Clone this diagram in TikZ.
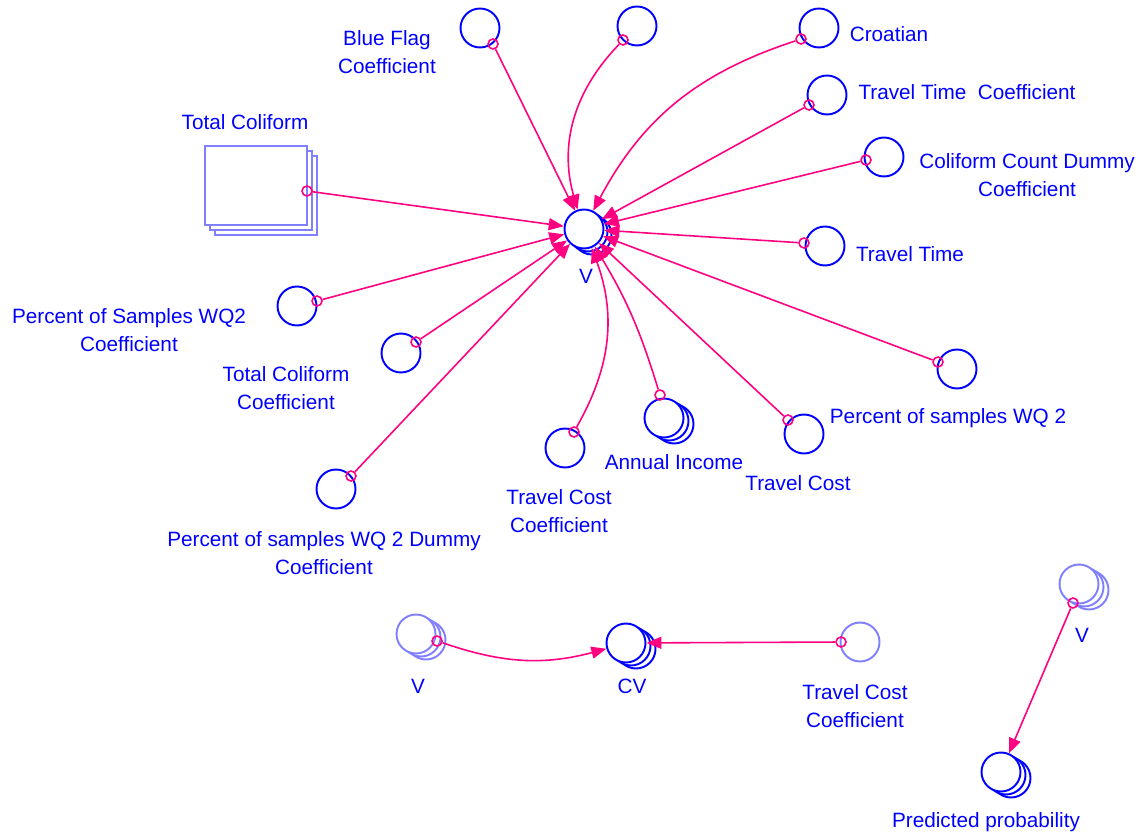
\documentclass[tikz,border=0pt]{standalone}
\usepackage{fontspec}
\setmainfont{Liberation Sans}
\usetikzlibrary{arrows.meta}
\definecolor{vblue}{RGB}{0,0,255}
\definecolor{lblue}{RGB}{128,128,255}
\definecolor{pink}{RGB}{255,0,128}
\begin{document}
\begin{tikzpicture}[x=0.02cm,y=-0.02cm]
    \tikzset{%
      var/.style={circle, draw=vblue, line width=1.1pt, fill=white,
        inner sep=0pt, minimum size=0.78cm},
      lvar/.style={var, draw=lblue},
      lvl/.style={rectangle, draw=lblue, line width=1.2pt, fill=white,
        inner sep=0pt, minimum width=2.04cm, minimum height=1.58cm},
      pin/.style={circle, draw=pink, line width=0.9pt, inner sep=0pt,
        minimum size=0.2cm},
      lbl/.style={text=vblue, align=center,
        font=\fontsize{11.8pt}{15.9pt}\selectfont},
      link/.style={draw=pink, line width=0.9pt,
        -{Triangle[length=0.3cm,width=0.24cm]}},
    }
    \useasboundingbox (0,0) rectangle (1142,834);
    % V and its inputs
    \node[var] (V2) at (592,235) {};
    \node[var] (V1) at (588,232) {};
    \node[var] (V) at (584,229) {};
    \node[lbl] (Vl) at (586,276) {V};

    \node[var] (BF) at (480,28) {};
    \node[pin] (BFo) at (493,44) {};
    \node[lbl] (BFl) at (387,52) {Blue Flag\\Coefficient};

    \node[var] (U) at (637,26) {};
    \node[pin] (Uo) at (623,40) {};

    \node[var] (CR) at (819,28) {};
    \node[pin] (CRo) at (801,39) {};
    \node[lbl] (CRl) at (889,34) {Croatian};

    \node[var] (TTC) at (827,95) {};
    \node[pin] (TTCo) at (809,105) {};
    \node[lbl] (TTCl) at (967,92) {Travel Time\ \ Coefficient};

    \node[var] (CCD) at (884,157) {};
    \node[pin] (CCDo) at (866,160) {};
    \node[lbl] (CCDl) at (1027,175) {Coliform Count Dummy\\Coefficient};

    \node[var] (TT) at (825,246) {};
    \node[pin] (TTo) at (804,243) {};
    \node[lbl] (TTl) at (910,254) {Travel Time};

    \node[var] (PSW) at (957,369) {};
    \node[pin] (PSWo) at (938,362) {};
    \node[lbl] (PSWl) at (948,418) {Percent of samples WQ 2};

    \node[var] (TC) at (804,434) {};
    \node[pin] (TCo) at (788,420) {};
    \node[lbl] (TCl) at (798,483) {Travel Cost};

    \node[var] (AI2) at (674,424) {};
    \node[var] (AI1) at (669,421) {};
    \node[var] (AI) at (664,418) {};
    \node[pin] (AIo) at (660,395) {};
    \node[lbl] (AIl) at (674,462) {Annual Income};

    \node[var] (TCC) at (565,448) {};
    \node[pin] (TCCo) at (574,432) {};
    \node[lbl] (TCCl) at (559,511) {Travel Cost\\Coefficient};

    \node[var] (PSWD) at (336,489) {};
    \node[pin] (PSWDo) at (351,476) {};
    \node[lbl] (PSWDl) at (324,553) {Percent of samples WQ 2 Dummy\\Coefficient};

    \node[var] (TCoC) at (401,353) {};
    \node[pin] (TCoCo) at (416,342) {};
    \node[lbl] (TCoCl) at (286,388) {Total Coliform\\Coefficient};

    \node[var] (PSC) at (297,306) {};
    \node[pin] (PSCo) at (317,301) {};
    \node[lbl] (PSCl) at (129,330) {Percent of Samples WQ2\\Coefficient};

    \node[lvl] (TCol2) at (266,195.5) {};
    \node[lvl] (TCol1) at (261,190.5) {};
    \node[lvl] (TCol) at (256,185.5) {};
    \node[pin] (TColo) at (307,191) {};
    \node[lbl] (TColl) at (245,122) {Total Coliform};

    \draw[link] (BFo) -- (V);
    \draw[link] (Uo) to[bend right=30] (V);
    \draw[link] (CRo) to[bend right=22] (V);
    \draw[link] (TTCo) -- (V);
    \draw[link] (CCDo) -- (V);
    \draw[link] (TTo) -- (V);
    \draw[link] (PSWo) -- (V);
    \draw[link] (TCo) -- (V);
    \draw[link] (AIo) to[bend right=7] (V);
    \draw[link] (TCCo) to[bend right=25] (V);
    \draw[link] (PSWDo) -- (V);
    \draw[link] (TCoCo) -- (V);
    \draw[link] (PSCo) -- (V);
    \draw[link] (TColo) -- (V);

    % CV
    \node[lvar] (Vb2) at (426,640) {};
    \node[lvar] (Vb1) at (421,637) {};
    \node[lvar] (Vb) at (416,634) {};
    \node[pin] (Vbo) at (437,641) {};
    \node[lbl] (Vbl) at (418,686) {V};

    \node[var] (CV2) at (636,649) {};
    \node[var] (CV1) at (631,646) {};
    \node[var] (CV) at (626,643) {};
    \node[lbl] (CVl) at (632,686) {CV};

    \node[lvar] (TCb) at (860,642) {};
    \node[pin] (TCbo) at (841,642) {};
    \node[lbl] (TCbl) at (855,706) {Travel Cost\\Coefficient};

    \draw[link] (Vbo) to[bend right=17] (CV);
    \draw[link] (TCbo) -- (CV);

    % predicted probability
    \node[lvar] (Vr2) at (1089,590) {};
    \node[lvar] (Vr1) at (1084,587) {};
    \node[lvar] (Vr) at (1079,584) {};
    \node[pin] (Vro) at (1073,603) {};
    \node[lbl] (Vrl) at (1082,635) {V};

    \node[var] (PP2) at (1011,778) {};
    \node[var] (PP1) at (1006,775) {};
    \node[var] (PP) at (1001,772) {};
    \node[lbl] (PPl) at (986,822) {Predicted probability};

    \draw[link] (Vro) -- (PP);
\end{tikzpicture}
\end{document}
